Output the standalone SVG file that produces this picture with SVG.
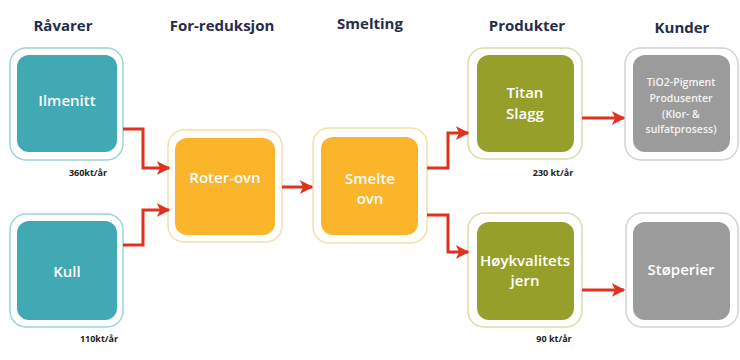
<svg xmlns="http://www.w3.org/2000/svg" width="740" height="360" viewBox="0 0 740 360">
<defs>
<style>
.hdr{font-family:"Open Sans","Liberation Sans",sans-serif;font-weight:700;font-size:15px;fill:#262c4c;text-anchor:middle}
.lbl{font-family:"Open Sans","Liberation Sans",sans-serif;font-weight:700;font-size:9px;fill:#222;text-anchor:middle}
.t{font-family:"Open Sans","Liberation Sans",sans-serif;font-weight:600;font-size:15px;fill:#ffffff;text-anchor:middle}
.ts{font-family:"Open Sans","Liberation Sans",sans-serif;font-weight:600;font-size:10.5px;fill:#f4f4f4;text-anchor:middle}
.outer{fill:#ffffff;stroke-width:1.5}
.teal .outer{stroke:#9fd4d9}
.teal .inner{fill:#40a9b3}
.orange .outer{stroke:#efe2a6}
.orange .inner{fill:#fbb52b}
.olive .outer{stroke:#dcdcaa}
.olive .inner{fill:#979f2b}
.gray .outer{stroke:#d4d4d4}
.gray .inner{fill:#9b9b9b}
.conn path{fill:none;stroke:#e0331f;stroke-width:3;stroke-linejoin:miter}
</style>
<marker id="ah" viewBox="0 0 10 10" refX="9" refY="5" markerWidth="4.5" markerHeight="4.5" orient="auto" markerUnits="strokeWidth">
<path d="M0,0 L10,5 L0,10 L2.5,5 Z" fill="#e0331f"/>
</marker>
</defs>
<rect width="740" height="360" fill="#ffffff"/>
<g id="headers">
<text class="hdr" x="63" y="31">Råvarer</text>
<text class="hdr" x="222" y="31">For-reduksjon</text>
<text class="hdr" x="370" y="29">Smelting</text>
<text class="hdr" x="527" y="31">Produkter</text>
<text class="hdr" x="682" y="33">Kunder</text>
</g>
<g id="ilmenitt" class="teal">
<rect class="outer" x="10" y="48" width="113" height="112" rx="16"/>
<rect class="inner" x="17" y="55" width="100" height="97" rx="12"/>
<text class="t" x="67" y="106">Ilmenitt</text>
</g>
<g id="kull" class="teal">
<rect class="outer" x="10" y="214" width="113" height="113" rx="16"/>
<rect class="inner" x="17" y="221" width="100" height="99" rx="12"/>
<text class="t" x="67" y="277">Kull</text>
</g>
<g id="roter-ovn" class="orange">
<rect class="outer" x="168" y="130" width="114" height="112" rx="16"/>
<rect class="inner" x="175" y="138" width="100" height="97" rx="12"/>
<text class="t" x="225" y="183">Roter-ovn</text>
</g>
<g id="smelte-ovn" class="orange">
<rect class="outer" x="313" y="128" width="114" height="115" rx="16"/>
<rect class="inner" x="321" y="137" width="97" height="98" rx="12"/>
<text class="t" x="370" y="184">Smelte</text>
<text class="t" x="370" y="204">ovn</text>
</g>
<g id="titan-slagg" class="olive">
<rect class="outer" x="468" y="48" width="114" height="111" rx="16"/>
<rect class="inner" x="477" y="55" width="97" height="97" rx="12"/>
<text class="t" x="525" y="98">Titan</text>
<text class="t" x="525" y="119">Slagg</text>
</g>
<g id="hoykvalitets-jern" class="olive">
<rect class="outer" x="468" y="213" width="114" height="114" rx="16"/>
<rect class="inner" x="477" y="222" width="97" height="98" rx="12"/>
<text class="t" x="525" y="266">Høykvalitets</text>
<text class="t" x="525" y="286">jern</text>
</g>
<g id="tio2" class="gray">
<rect class="outer" x="625" y="48" width="113" height="112" rx="16"/>
<rect class="inner" x="633" y="55" width="97" height="97" rx="12"/>
<text class="ts" x="681" y="86">TiO2-Pigment</text>
<text class="ts" x="681" y="102">Produsenter</text>
<text class="ts" x="681" y="118">(Klor- &amp;</text>
<text class="ts" x="681" y="133">sulfatprosess)</text>
</g>
<g id="stoperier" class="gray">
<rect class="outer" x="626" y="213" width="112" height="114" rx="16"/>
<rect class="inner" x="633" y="222" width="97" height="98" rx="12"/>
<text class="t" x="681" y="275">Støperier</text>
</g>
<g id="labels">
<text class="lbl" x="88" y="176">360kt/år</text>
<text class="lbl" x="99" y="342">110kt/år</text>
<text class="lbl" x="553" y="176">230 kt/år</text>
<text class="lbl" x="554" y="342">90 kt/år</text>
</g>
<g id="connectors" class="conn">
<path d="M123,129 H143 V168 H169" marker-end="url(#ah)"/>
<path d="M123,245 H143 V210 H169" marker-end="url(#ah)"/>
<path d="M282,187 H312" marker-end="url(#ah)"/>
<path d="M427,168 H448 V133 H468" marker-end="url(#ah)"/>
<path d="M427,215 H448 V252 H468" marker-end="url(#ah)"/>
<path d="M582,118 H624" marker-end="url(#ah)"/>
<path d="M582,290 H624" marker-end="url(#ah)"/>
</g>
</svg>
